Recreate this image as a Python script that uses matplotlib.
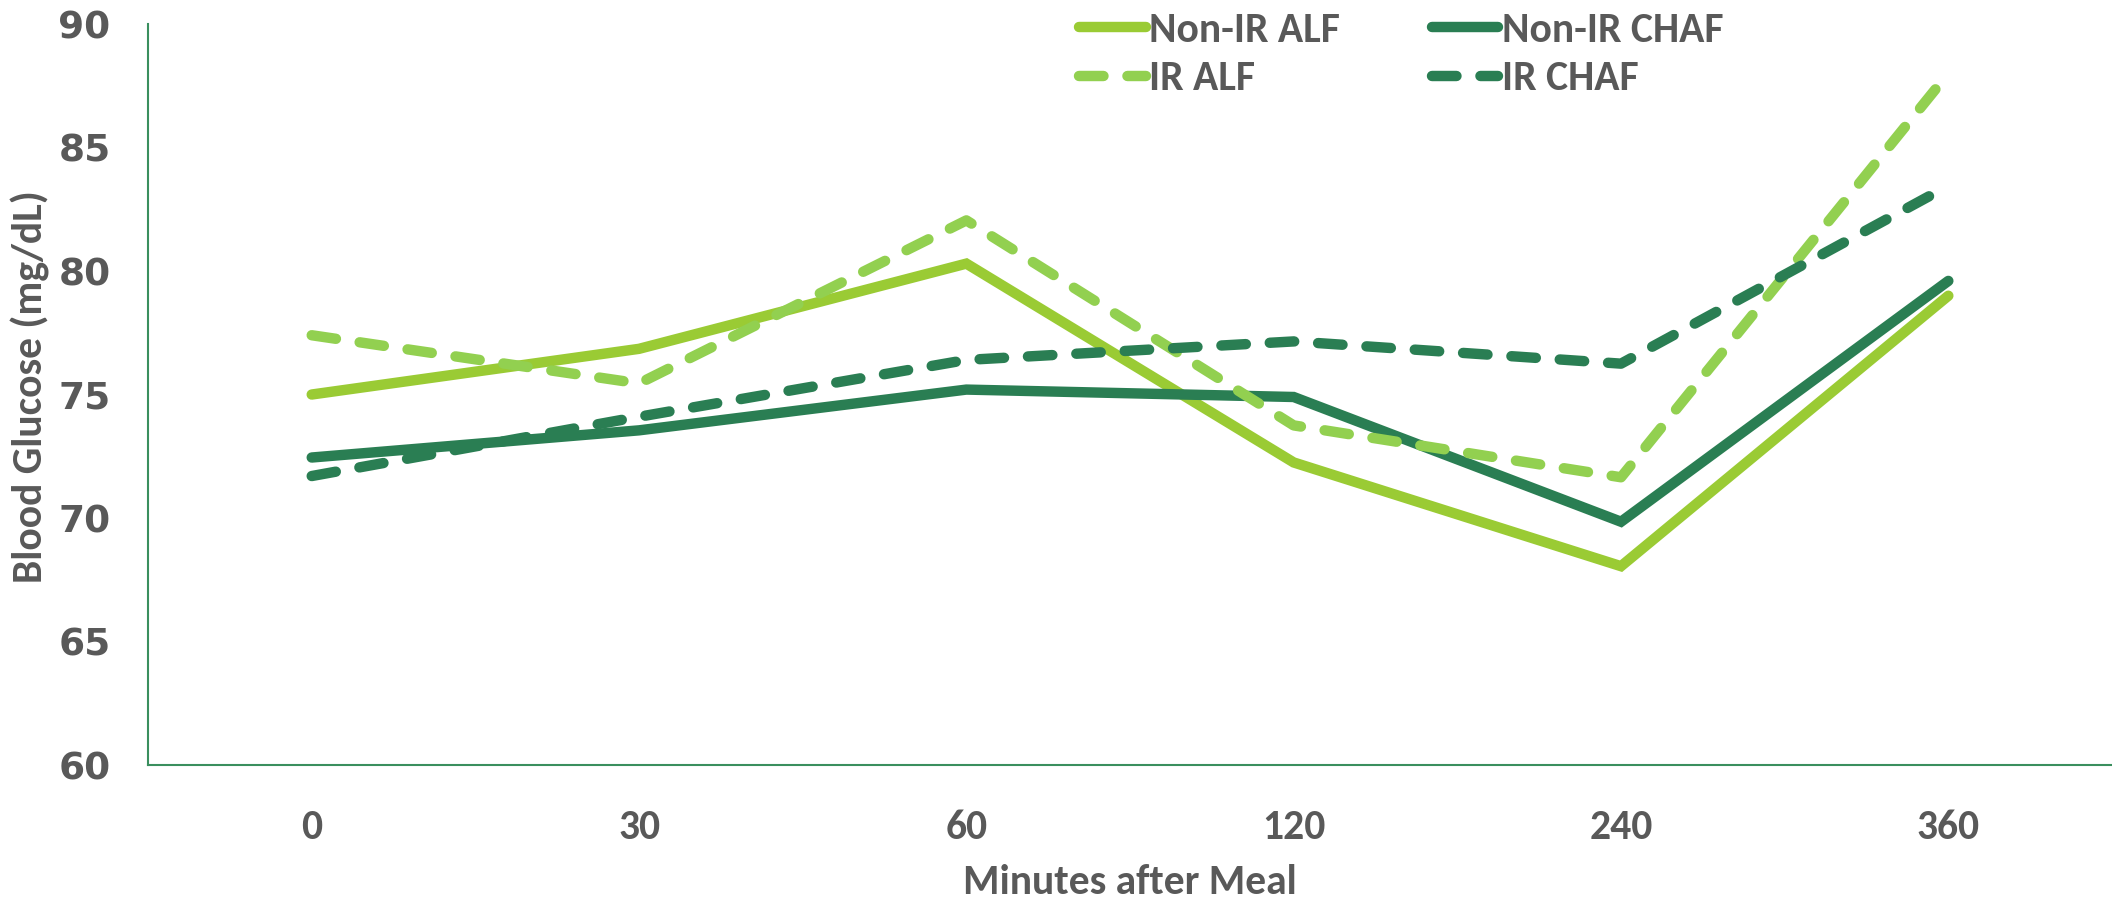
import matplotlib
matplotlib.use("Agg")
import matplotlib.pyplot as plt

minutes = ["0", "30", "60", "120", "240", "360"]
non_ir_alf = [75.0, 76.85, 80.3, 72.25, 68.05, 79.0]
non_ir_chaf = [72.45, 73.55, 75.2, 74.9, 69.85, 79.6]
ir_alf = [77.4, 75.45, 82.05, 73.75, 71.65, 88.0]
ir_chaf = [71.7, 74.1, 76.4, 77.15, 76.25, 83.45]

text_col = "#595959"
label_font = ["Carlito", "Lato", "DejaVu Sans"]

fig = plt.figure(figsize=(21.12, 8.99), dpi=100)
ax = fig.add_axes([0.0701, 0.149, 0.9299, 0.8243])

lw = 7.5
dash = (2.35, 2.3)
l1, = ax.plot(minutes, non_ir_alf, color="#9ACB34", lw=lw, solid_capstyle="round",
              solid_joinstyle="miter", label="Non-IR ALF")
l2, = ax.plot(minutes, non_ir_chaf, color="#2A7E53", lw=lw, solid_capstyle="round",
              solid_joinstyle="miter", label="Non-IR CHAF")
l3, = ax.plot(minutes, ir_alf, color="#92D050", lw=lw, dashes=dash, dash_capstyle="round",
              label="IR ALF")
l4, = ax.plot(minutes, ir_chaf, color="#2A7E53", lw=lw, dashes=dash, dash_capstyle="round",
              label="IR CHAF")

ax.set_xlim(-0.5, 5.5)
ax.set_ylim(60, 90)
ax.set_yticks(range(60, 91, 5))

for s in ["top", "right"]:
    ax.spines[s].set_visible(False)
for s in ["left", "bottom"]:
    ax.spines[s].set_color("#3A8F5E")
    ax.spines[s].set_linewidth(1.5)

ax.tick_params(axis="both", length=0)
ax.tick_params(axis="y", pad=27)
ax.tick_params(axis="x", pad=32)
for t in ax.get_yticklabels():
    t.set_fontfamily("DejaVu Sans")
    t.set_fontweight("bold")
    t.set_fontsize(27)
    t.set_color(text_col)
for t in ax.get_xticklabels():
    t.set_fontfamily(label_font)
    t.set_fontweight("bold")
    t.set_fontsize(30)
    t.set_color(text_col)

ax.set_xlabel("Minutes after Meal", fontsize=30, fontweight="bold",
              color=text_col, family=label_font, va="center")
ax.set_ylabel("Blood Glucose (mg/dL)", fontsize=30, fontweight="bold",
              color=text_col, family=label_font, va="center")
ax.xaxis.set_label_coords(0.5, -0.158)
ax.yaxis.set_label_coords(-0.060, 0.511)

# row-wise order: Non-IR ALF, Non-IR CHAF / IR ALF, IR CHAF
leg = fig.legend([l1, l3, l2, l4], [l1.get_label(), l3.get_label(), l2.get_label(), l4.get_label()],
                 loc="upper left", bbox_to_anchor=(1077 / 2112, 0.989), ncol=2,
                 frameon=False, borderpad=0.05, borderaxespad=0,
                 handlelength=1.6, handletextpad=0.08, columnspacing=2.2,
                 labelspacing=0.27, prop={"family": label_font, "weight": "bold", "size": 30})
for t in leg.get_texts():
    t.set_color(text_col)

fig.savefig("out.png", dpi=100)
